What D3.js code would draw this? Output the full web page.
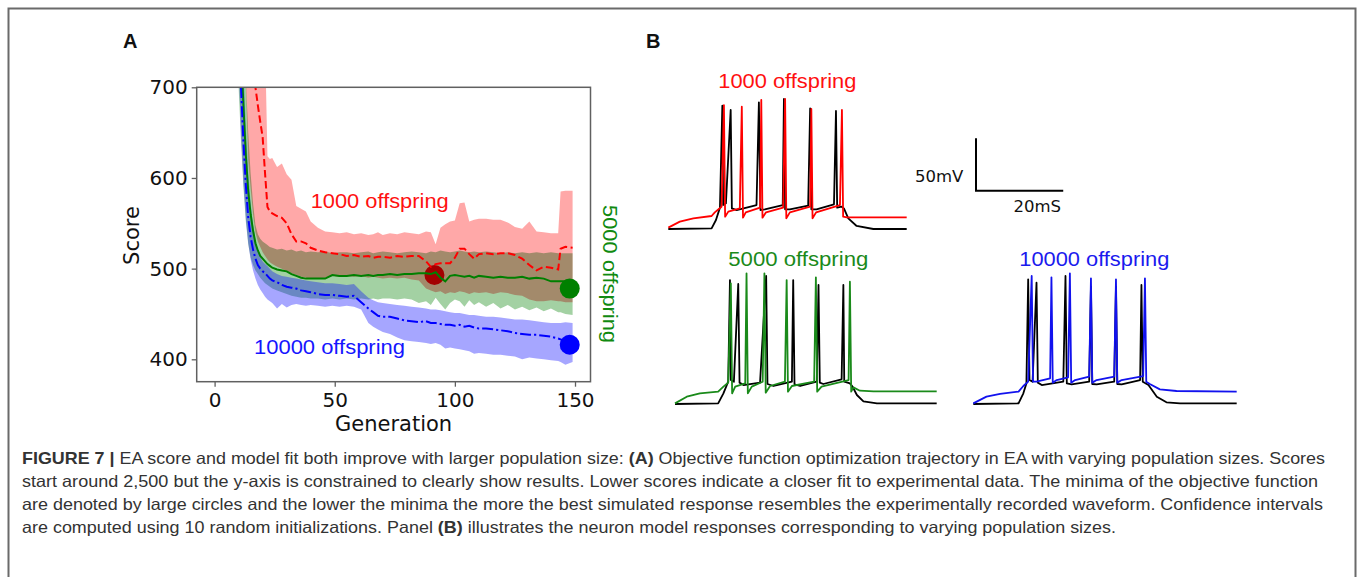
<!DOCTYPE html>
<html><head><meta charset="utf-8">
<script src="https://cdn.jsdelivr.net/npm/d3@7"></script>
<style>body{margin:0;background:#fff}svg{display:block}</style>
</head><body>
<svg id="fig" width="1357" height="577"></svg>
<script>
// ---------------- DATA: panel A ----------------
const generations = [0,4,8,10,11,12,13,14,15,16,17,18,19,20,21,22,23,24,26,28,30,32,34,36,38,40,43,46,49,52,55,58,61,64,66,68,70,73,76,79,82,85,88,90,92,94,96,98,100,102,104,106,108,110,113,116,119,122,125,128,131,134,137,140,143,144,146,149];

const mean1000 = [2500,1900,1300,1100,1020,950,890,830,780,730,700,680,662,645,605,568,563,561,558,556,550,538,530,530,528,523,520,518,517,516,514,515,513,514,512,513,513,512,514,513,514,514,508,502,505,506,506,506,512,522,522,516,511,516,517,516,517,517,515,511,504,498,502,501,499,522,524,523];
const hi1000   = [2700,2100,1500,1300,1200,1100,1000,950,900,860,830,800,780,765,750,624,621,622,612,616,604,598,569,566,563,552,545,541,540,539,540,538,539,537,538,540,537,539,538,540,539,538,541,540,527,545,549,552,553,572,573,552,554,555,555,554,554,551,546,544,552,541,540,539,539,585,586,586];
const lo1000   = [2300,1700,1100,900,820,760,705,620,588,560,540,530,524,518,514,510,507,505,502,500,497,495,493,491,490,489,489,490,492,491,492,491,492,490,491,490,489,490,489,490,488,487,478,476,474,475,472,474,473,475,474,472,474,473,474,472,474,473,471,470,466,464,464,465,464,464,463,463];

const mean5000 = [2500,1700,1000,820,740,680,625,585,560,542,528,520,514,511,508,505,503,501,499,498,497,494,492,490,489,489,489,489,493,492,492,493,492,493,492,493,493,494,493,494,494,495,495,494,496,490,486,492,493,492,491,492,490,492,491,490,491,490,490,491,489,490,489,486,486,486,486,486];
const hi5000   = [2700,1900,1200,950,860,780,710,650,605,572,548,538,533,530,528,526,524,523,521,522,520,521,519,520,518,519,518,519,517,518,518,517,518,519,517,518,519,518,517,518,519,518,517,519,518,520,519,518,519,520,519,518,519,518,519,518,517,518,517,518,517,518,517,518,517,517,517,517];
const lo5000   = [2300,1500,850,700,640,590,552,527,512,504,498,494,490,487,484,482,480,478,476,474,472,470,469,468,468,467,467,466,467,466,467,466,467,466,467,466,467,467,466,467,466,462,464,460,468,461,455,462,466,464,458,465,460,463,458,462,456,460,455,458,454,457,453,456,452,452,450,449];

const mean10000 = [2500,1600,950,760,700,640,592,556,535,521,511,504,500,497,495,492,489,487,485,482,480,479,478,476,475,474,472,471,471,470,469,470,463,456,452,448,447,447,445,443,442,441,442,440,440,439,438,438,437,438,436,437,435,434,434,433,432,431,429,428,427,427,426,425,423,422,420,418];
const hi10000   = [2700,1800,1100,880,800,720,655,605,572,548,532,521,513,508,505,503,500,497,494,492,491,490,489,488,487,486,485,484,484,483,482,483,475,468,465,463,462,461,460,459,458,457,456,455,455,454,453,452,451,451,450,449,449,448,447,447,446,445,444,444,443,442,441,440,440,440,441,440];
const lo10000   = [2300,1400,850,720,650,595,555,528,510,498,489,482,477,473,469,466,464,462,456,461,457,460,461,460,459,460,459,458,459,458,459,458,455,440,436,433,430,428,424,421,420,419,418,417,418,416,412,413,412,411,410,409,406,407,406,405,405,404,403,400,402,401,400,399,398,397,394,397];

const minima = [
  {series: "1000",  generation: 91.5,  score: 493},
  {series: "5000",  generation: 147.8, score: 478},
  {series: "10000", generation: 147.8, score: 416}
];
const xTicks = [0, 50, 100, 150];
const yTicks = [400, 500, 600, 700];

// ---------------- DATA: panel B (time ms, membrane voltage mV) ----------------
const trace1000Exp = [[0,-80],[10.9,-79.4],[12.0,-71.4],[13.0,-59.6],[13.6,37.8],[13.8,-57.1],[14.5,-55.5],[15.7,33.7],[16.0,-60.3],[17.2,-61.9],[19.7,-59.6],[22.2,-57.1],[22.8,41.0],[23.2,-61.9],[24.3,-61.2],[28.8,-57.1],[29.1,44.2],[29.4,-61.2],[30.6,-61.2],[35.2,-57.7],[35.7,35.2],[36.0,-61.2],[37.3,-61.2],[41.7,-56.4],[42.2,32.7],[42.5,-59.6],[43.6,-58.7],[44.2,-60.3],[45.3,-69.8],[47.4,-77.1],[51.6,-80],[60,-80]];
const trace1000Sim = [[0,-78.7],[2.9,-73.0],[6.3,-69.8],[10.9,-67.6],[11.7,-64.1],[13.4,-58.7],[14.0,38.4],[14.3,-68.2],[15.1,-63.4],[18.0,-60.3],[18.5,36.8],[18.8,-69.2],[19.5,-64.1],[23.1,-59.6],[23.4,43.2],[23.7,-69.2],[24.6,-64.1],[28.9,-59.6],[29.4,44.2],[29.7,-69.8],[30.6,-64.1],[35.7,-58.7],[36.0,34.6],[36.3,-69.8],[37.2,-64.1],[43.2,-57.1],[43.7,33.7],[44.0,-68.2],[44.9,-68.9],[60,-68.9]];
const trace5000Exp = [[0,-80],[9.9,-79.4],[11.1,-69.8],[12.2,-58.7],[12.6,38.4],[12.8,-57.1],[13.5,-58.7],[14.5,34.6],[14.8,-59.6],[15.7,-61.9],[19.5,-59.6],[20.9,42.3],[21.2,-60.9],[22.6,-62.8],[26.8,-58.7],[27.1,38.4],[27.4,-61.2],[28.7,-62.8],[32.5,-58.7],[32.9,33.7],[33.2,-59.6],[34.0,-60.9],[38.2,-56.4],[38.6,33.7],[38.8,-58.7],[40.1,-60.3],[40.7,-63.4],[41.7,-71.4],[43.2,-77.5],[46.3,-79.4],[60,-79.4]];
const trace5000Sim = [[0,-79.4],[2.7,-73.0],[5.7,-69.8],[9.9,-68.2],[11.1,-63.4],[12.2,-59.6],[12.8,35.3],[13.1,-69.8],[13.8,-63.4],[16.1,-60.3],[16.4,44.8],[16.7,-69.8],[17.6,-63.4],[20.1,-58.7],[20.5,44.8],[20.8,-69.2],[21.8,-62.8],[25.2,-58.7],[25.6,38.4],[25.9,-68.2],[26.8,-62.8],[31.9,-58.7],[32.3,41.0],[32.6,-68.2],[33.6,-63.4],[39.8,-57.1],[40.1,36.8],[40.4,-68.2],[40.9,-64.1],[42.4,-67.3],[45.5,-67.9],[60,-67.9]];
const trace10000Exp = [[0,-80],[10.3,-79.4],[11.4,-69.8],[12.1,-60.3],[12.5,39.1],[12.8,-57.1],[13.5,-58.7],[14.4,35.9],[14.7,-59.6],[15.6,-61.9],[20.5,-58.7],[21.0,42.3],[21.3,-60.3],[22.4,-61.2],[26.4,-58.7],[26.8,32.1],[27.1,-60.9],[28.1,-61.2],[32.1,-58.7],[32.5,32.1],[32.8,-60.9],[33.8,-61.2],[38.0,-57.1],[38.3,33.7],[38.6,-58.7],[39.9,-61.9],[41.8,-73.0],[44.0,-78.4],[47.1,-79.4],[60,-79.4]];
const trace10000Sim = [[0,-79.4],[3.0,-73.0],[6.1,-70.4],[10.3,-68.2],[11.4,-62.8],[12.5,-58.7],[13.3,42.3],[13.6,-58.7],[14.4,-58.7],[17.5,-55.5],[17.8,41.0],[18.1,-59.6],[19.0,-57.1],[21.6,-54.5],[22.0,44.8],[22.3,-59.6],[23.2,-57.1],[26.4,-53.9],[26.8,40.0],[27.1,-59.6],[28.1,-57.1],[32.1,-53.9],[32.5,39.1],[32.8,-59.6],[33.8,-57.1],[38.7,-53.3],[39.1,40.0],[39.4,-58.7],[40.2,-60.9],[42.5,-66.0],[46.3,-67.6],[60,-68.2]];
const scaleBar = {mV: 50, ms: 20};

const captionLines = [
  [["FIGURE 7 | ", true], ["EA score and model fit both improve with larger population size: ", false], ["(A)", true], [" Objective function optimization trajectory in EA with varying population sizes. Scores", false]],
  [["start around 2,500 but the y-axis is constrained to clearly show results. Lower scores indicate a closer fit to experimental data. The minima of the objective function", false]],
  [["are denoted by large circles and the lower the minima the more the best simulated response resembles the experimentally recorded waveform. Confidence intervals", false]],
  [["are computed using 10 random initializations. Panel ", false], ["(B)", true], [" illustrates the neuron model responses corresponding to varying population sizes.", false]]
];

// ---------------- DRAWING ----------------
const svg = d3.select('#fig');
const ARIAL = "'Liberation Sans', Arial, sans-serif";
const DEJAVU = "'DejaVu Sans', sans-serif";

// outer frame
svg.append('path').attr('d', 'M8.5,577 V8.5 H1355.5 V577')
  .attr('fill', 'none').attr('stroke', '#6a6a6a').attr('stroke-width', 2);

// panel letters
svg.append('text').attr('x', 123).attr('y', 47.5).text('A')
  .attr('font-family', ARIAL).attr('font-weight', 'bold').attr('font-size', 20).attr('fill', '#111');
svg.append('text').attr('x', 646).attr('y', 47.5).text('B')
  .attr('font-family', ARIAL).attr('font-weight', 'bold').attr('font-size', 20).attr('fill', '#111');

// ---- Panel A ----
const L = 196.7, R = 590.5, T = 87.3, B = 381.7;
const x = d3.scaleLinear().domain([-7.45, 156.45]).range([L, R]);
const y = d3.scaleLinear().domain([375.3, 700]).range([B, T]);

svg.append('clipPath').attr('id', 'clipA').append('rect')
  .attr('x', L).attr('y', T).attr('width', R - L).attr('height', B - T);
const gA = svg.append('g').attr('clip-path', 'url(#clipA)').style('isolation', 'isolate');

function rows(m, lo, hi) { return generations.map((g, i) => ({g, m: m[i], lo: lo[i], hi: hi[i]})); }
const series = [
  {key: "1000",  rows: rows(mean1000, lo1000, hi1000),   line: '#ff0000', band: 'rgba(255,0,0,0.34)',  dash: '7.5,3.5'},
  {key: "5000",  rows: rows(mean5000, lo5000, hi5000),   line: '#008000', band: 'rgba(0,128,0,0.36)',  dash: null},
  {key: "10000", rows: rows(mean10000, lo10000, hi10000), line: '#0000ff', band: 'rgba(0,0,255,0.35)', dash: '11,3,2.2,3'}
];
const area = d3.area().x(d => x(d.g)).y0(d => y(d.lo)).y1(d => y(d.hi));
const line = d3.line().x(d => x(d.g)).y(d => y(d.m));
const minOf = k => minima.find(m => m.series === k);
function circle(k, col) {
  const m = minOf(k);
  gA.append('circle').attr('cx', x(m.generation)).attr('cy', y(m.score)).attr('r', 10).attr('fill', col);
}
// bands (red circle sits beneath the green band)
gA.append('path').datum(series[0].rows).attr('d', area).attr('fill', series[0].band);
circle("1000", '#ff0000');
gA.append('path').datum(series[1].rows).attr('d', area).attr('fill', series[1].band)
  .style('mix-blend-mode', 'multiply');
gA.append('path').datum(series[2].rows).attr('d', area).attr('fill', series[2].band);
series.forEach(s => {
  gA.append('path').datum(s.rows).attr('d', line).attr('fill', 'none')
    .attr('stroke', s.line).attr('stroke-width', 2)
    .attr('stroke-dasharray', s.dash);
});
circle("5000", '#008000');
circle("10000", '#0000ff');

// frame
svg.append('rect').attr('x', L).attr('y', T).attr('width', R - L).attr('height', B - T)
  .attr('fill', 'none').attr('stroke', '#606060').attr('stroke-width', 1.5);

// axes
const axL = svg.append('g').attr('transform', `translate(${L},0)`)
  .call(d3.axisLeft(y).tickValues(yTicks).tickSize(5).tickPadding(4));
const axB = svg.append('g').attr('transform', `translate(0,${B})`)
  .call(d3.axisBottom(x).tickValues(xTicks).tickSize(5).tickPadding(6));
[axL, axB].forEach(a => {
  a.select('.domain').remove();
  a.selectAll('line').attr('stroke', '#606060').attr('stroke-width', 1.3);
  a.selectAll('text').attr('font-family', DEJAVU).attr('font-size', 20).attr('fill', '#111');
});
svg.append('text').attr('transform', `translate(139,235.5) rotate(-90)`)
  .attr('text-anchor', 'middle').text('Score')
  .attr('font-family', DEJAVU).attr('font-size', 21).attr('fill', '#111');
svg.append('text').attr('x', (L + R) / 2).attr('y', 431).attr('text-anchor', 'middle').text('Generation')
  .attr('font-family', DEJAVU).attr('font-size', 21).attr('fill', '#111');

// annotations
function label(sel, txt, col, len) {
  return sel.append('text').text(txt).attr('fill', col).attr('font-family', ARIAL).attr('font-size', 20)
    .attr('textLength', len).attr('lengthAdjust', 'spacingAndGlyphs');
}
label(svg, '1000 offspring', '#ff1010', 138).attr('x', 310.7).attr('y', 207.5);
label(svg, '10000 offspring', '#1515ff', 151).attr('x', 254).attr('y', 354);
label(svg, '5000 offspring', '#108a10', 138).attr('transform', 'translate(602.5,205) rotate(90)');

// ---- Panel B ----
const mVpx = 1.047;
function panel(x0, x1, yBase) {
  return {
    x: d3.scaleLinear().domain([0, 60]).range([x0, x1]),
    y: d3.scaleLinear().domain([-80, 40]).range([yBase, yBase - 120 * mVpx])
  };
}
const P1 = panel(668.3, 906.7, 229);
const P2 = panel(675, 936.7, 404);
const P3 = panel(973.3, 1236.7, 404);
function trace(P, data, col) {
  svg.append('path').datum(data)
    .attr('d', d3.line().x(d => P.x(d[0])).y(d => P.y(d[1])))
    .attr('fill', 'none').attr('stroke', col).attr('stroke-width', 1.8).attr('stroke-linejoin', 'round');
}
trace(P1, trace1000Exp, '#000');
trace(P1, trace1000Sim, '#ff0000');
trace(P2, trace5000Exp, '#000');
trace(P2, trace5000Sim, '#1a8a1a');
trace(P3, trace10000Exp, '#000');
trace(P3, trace10000Sim, '#1212ee');

function blabel(txt, col, len, xx, yy) {
  label(svg, txt, col, len).attr('x', xx).attr('y', yy).attr('font-size', 20);
}
blabel('1000 offspring', '#ff1010', 138, 718.3, 87.7);
blabel('5000 offspring', '#1a8a1a', 140, 728.3, 265.7);
blabel('10000 offspring', '#1a1aee', 150, 1019.3, 265.7);

// scale bar
const sbX = d3.scaleLinear().domain([0, 60]).range([976, 976 + (P2.x(60) - P2.x(0))]);
const sbY = d3.scaleLinear().domain([0, 120]).range([190.7, 190.7 - 120 * mVpx]);
svg.append('path')
  .attr('d', `M${sbX(0)},${sbY(scaleBar.mV)} V${sbY(0)} H${sbX(scaleBar.ms)}`)
  .attr('fill', 'none').attr('stroke', '#000').attr('stroke-width', 2);
svg.append('text').attr('x', 915).attr('y', 182).text(scaleBar.mV + 'mV')
  .attr('font-family', DEJAVU).attr('font-size', 16.5).attr('fill', '#111');
svg.append('text').attr('x', 1013.5).attr('y', 212).text(scaleBar.ms + 'mS')
  .attr('font-family', DEJAVU).attr('font-size', 16.5).attr('fill', '#111');

// ---- caption ----
const capBase = [463.5, 487, 510, 533];
const capLen = [1303, 1296, 1301, 1094];
captionLines.forEach((parts, i) => {
  const t = svg.append('text').attr('x', 22).attr('y', capBase[i])
    .attr('font-family', ARIAL).attr('font-size', 16.5).attr('fill', '#333')
    .attr('textLength', capLen[i]).attr('lengthAdjust', 'spacingAndGlyphs');
  parts.forEach(([s, b]) => t.append('tspan').text(s).attr('font-weight', b ? 'bold' : 'normal'));
});
</script>
</body></html>
